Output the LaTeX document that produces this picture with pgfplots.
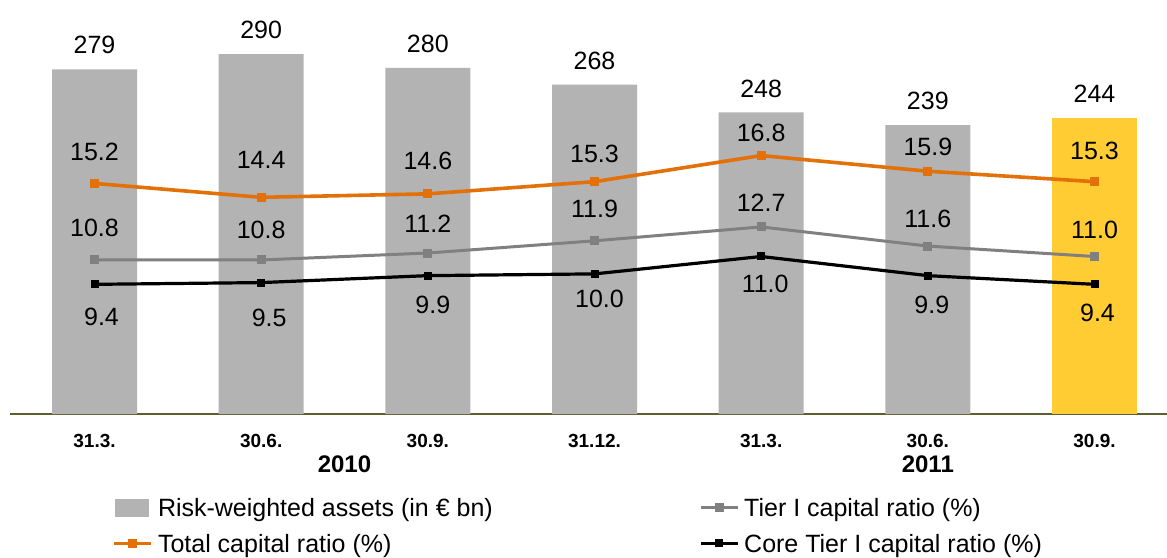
\documentclass[border=0pt]{standalone}
\usepackage{fontspec}
\setmainfont{Liberation Sans}
\usepackage{pgfplots}
\usepackage{pgfplotstable}
\pgfplotsset{compat=1.18}

\definecolor{barg}{RGB}{179,179,179}
\definecolor{bary}{RGB}{255,204,51}
\definecolor{orng}{RGB}{227,113,10}
\definecolor{tierg}{RGB}{128,128,128}
\definecolor{axc}{RGB}{94,94,48}

\pgfplotstableread{
x y
0 279
1 290
2 280
3 268
4 248
5 239
}\rwa
\pgfplotstableread{
x y
6 244
}\rwalast
\pgfplotstableread{
x y dy dx
0 15.2 15.8 0
1 14.4 18.7 0
2 14.6 16.7 0
3 15.3 13.9 0
4 16.8 11.3 0
5 15.9 12.4 0
6 15.3 15.2 0
}\total
\pgfplotstableread{
x y dy dx
0 10.8 15.9 0
1 10.8 14.8 0
2 11.2 14.5 0
3 11.9 16.2 0
4 12.7 11.9 0
5 11.6 13.7 0
6 11.0 13.4 0
}\tier
\pgfplotstableread{
x y dy dx
0 9.4 -16.4 3.5
1 9.5 -17.8 4
2 9.9 -14.5 2.5
3 10.0 -12.5 2.5
4 11.0 -13.5 2
5 9.9 -14.5 2
6 9.4 -14.5 1.5
}\core

\pgfplotsset{
  /pgf/number format/assume math mode=true,
  lbl/.style={
    nodes near coords={\pgfmathprintnumber[fixed,precision=1,fixed zerofill,assume math mode=true]{\pgfplotspointmeta}},
    visualization depends on={\thisrow{dy}\as\labdy},
    visualization depends on={\thisrow{dx}\as\labdx},
    every node near coord/.append style={anchor=center, inner sep=0pt, text=black,
      font=\fontsize{12.5}{15}\selectfont, yshift=\labdy pt, xshift=\labdx pt},
  },
  totalstyle/.style={draw=orng, line width=1.8pt, mark=square*, mark size=2pt,
    mark options={fill=orng, draw=orng, line width=0pt, solid}},
  tierstyle/.style={draw=tierg, line width=1.5pt, mark=square*, mark size=2pt,
    mark options={fill=tierg, draw=tierg, line width=0pt, solid}},
  corestyle/.style={draw=black, line width=1.6pt, mark=square*, mark size=1.75pt,
    mark options={fill=black, draw=black, line width=0pt, solid}},
}

\begin{document}
\begin{tikzpicture}
\useasboundingbox (0,0) rectangle (583.5pt,-278.5pt);

\begin{axis}[
  /pgf/number format/assume math mode=true,
  at={(5pt,-207pt)}, anchor=south west,
  scale only axis, width=578.5pt, height=207pt,
  xmin=-0.507, xmax=6.435, ymin=31.4, ymax=328.8,
  axis x line*=bottom, axis y line=none,
  x axis line style={draw=axc, line width=0.7pt, -},
  xtick={0,1,2,3,4,5,6},
  xticklabels={31.3.,30.6.,30.9.,31.12.,31.3.,30.6.,30.9.},
  major tick length=0pt,
  xticklabel style={font=\fontsize{9.5}{11}\selectfont\bfseries, anchor=center, inner sep=0pt, yshift=-13.5pt},
  extra x ticks={1.5,5},
  extra x tick labels={2010,2011},
  extra x tick style={major tick length=0pt,
    xticklabel style={font=\fontsize{12}{14}\selectfont\bfseries, yshift=-11.5pt}},
  ytick=\empty,
  clip=false,
]
\addplot[ybar, bar width=42.5pt, bar shift=0pt, fill=barg, draw=none,
  nodes near coords={\pgfmathprintnumber[assume math mode=true]{\pgfplotspointmeta}},
  every node near coord/.append style={anchor=center, inner sep=0pt, text=black,
      font=\fontsize{12.5}{15}\selectfont, yshift=12pt}]
  table[x=x,y=y] {\rwa};
\addplot[ybar, bar width=42.5pt, bar shift=0pt, fill=bary, draw=none,
  nodes near coords={\pgfmathprintnumber[assume math mode=true]{\pgfplotspointmeta}},
  every node near coord/.append style={anchor=center, inner sep=0pt, text=black,
      font=\fontsize{12.5}{15}\selectfont, yshift=12pt}]
  table[x=x,y=y] {\rwalast};
\end{axis}

\begin{axis}[
  /pgf/number format/assume math mode=true,
  at={(5pt,-207pt)}, anchor=south west,
  scale only axis, width=578.5pt, height=207pt,
  xmin=-0.507, xmax=6.435, ymin=1.948, ymax=25.74,
  axis lines=none, ticks=none,
  clip=false,
  legend columns=2,
  legend cell align=left,
  legend image code/.code={\draw[mark repeat=2,mark phase=2,#1] plot coordinates {(0pt,0pt) (9.25pt,0pt) (18.5pt,0pt)};},
  legend style={at={(0,0)}, anchor=north west, xshift=51pt, yshift=-42pt,
    draw=none, fill=none, inner sep=0pt, column sep=2.5pt, row sep=9pt,
    nodes={inner sep=0pt, text height=9pt, text depth=0pt, font=\fontsize{12.5}{15}\selectfont}},
]
\addlegendimage{legend image code/.code={\fill[barg] (0.5pt,-4.25pt) rectangle (17pt,4.25pt);}}
\addlegendentry{\makebox[268pt][l]{Risk-weighted assets (in € bn)}}
\addlegendimage{tierstyle}
\addlegendentry{Tier I capital ratio (\%)}
\addlegendimage{totalstyle}
\addlegendentry{\makebox[268pt][l]{Total capital ratio (\%)}}
\addlegendimage{corestyle}
\addlegendentry{Core Tier I capital ratio (\%)}

\addplot[totalstyle, lbl, forget plot] table[x=x,y=y] {\total};
\addplot[tierstyle, lbl, forget plot] table[x=x,y=y] {\tier};
\addplot[corestyle, lbl, forget plot] table[x=x,y=y] {\core};
\end{axis}
\end{tikzpicture}
\end{document}
